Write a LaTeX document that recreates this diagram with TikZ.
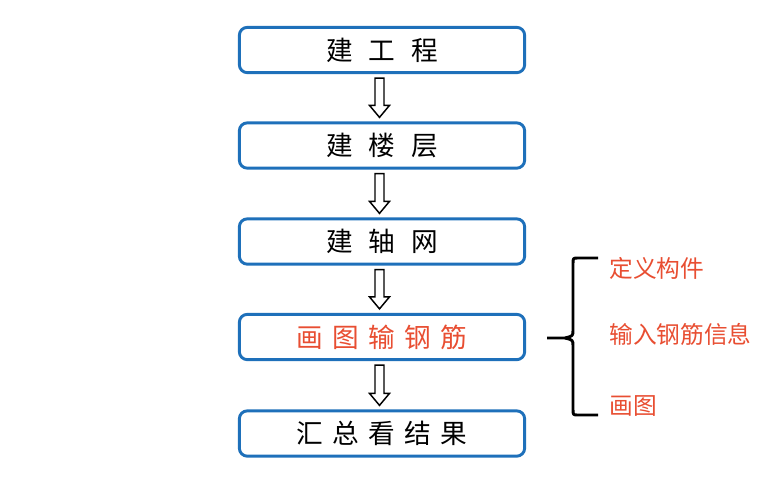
\documentclass[tikz,border=0pt]{standalone}
\usepackage{fontspec}
\newfontfamily\cjk{Noto Sans CJK SC}
\usetikzlibrary{calc}
\definecolor{boxblue}{RGB}{30,112,186}
\definecolor{notered}{RGB}{232,78,50}
\tikzstyle{stage} = [draw=boxblue, line width=2.2pt, rounded corners=6pt, minimum width=214pt, minimum height=34pt, inner sep=0pt, font=\cjk\fontsize{20}{22}\selectfont]
\tikzstyle{flow} = [line width=1.1pt, fill=white, line join=miter]
\tikzstyle{note} = [right, inner sep=0pt, text=notered, font=\cjk\fontsize{17.8}{19}\selectfont]
% hollow block arrow from one box down to the next
\newcommand{\flowarrow}[2]{\draw[flow] ($(#1.south)+(-7,4)$) -- ($(#2.north)+(-7,-16)$) -- ($(#2.north)+(-12.5,-16)$)
    -- ($(#2.north)+(-2.5,-4)$) -- ($(#2.north)+(7.5,-16)$) -- ($(#2.north)+(2,-16)$) -- ($(#1.south)+(2,4)$) -- cycle;}

\begin{document}
\begin{tikzpicture}[x=0.75pt, y=-0.75pt]
    \useasboundingbox (0,0) rectangle (757,490);
    \node (project) [stage] at (382,50) {建\hspace{12pt}工\hspace{12pt}程};
    \node (floors) [stage] at (382,145.5) {建\hspace{12pt}楼\hspace{12pt}层};
    \node (axis) [stage] at (382,241.5) {建\hspace{12pt}轴\hspace{12pt}网};
    \node (rebar) [stage, text=notered] at (382,337) {画\hspace{7pt}图\hspace{7pt}输\hspace{7pt}钢\hspace{7pt}筋};
    \node (result) [stage] at (382,433.5) {汇\hspace{7pt}总\hspace{7pt}看\hspace{7pt}结\hspace{7pt}果};
    \flowarrow{project}{floors}
    \flowarrow{floors}{axis}
    \flowarrow{axis}{rebar}
    \flowarrow{rebar}{result}
    % brace with the three steps
    \coordinate (btop) at (598,258);
    \coordinate (bbot) at (598,415);
    \coordinate (btip) at (547,338);
    \draw[line width=2.2pt, line join=round] (btop) -- (578,258) .. controls (573,258) .. (573,264) -- (573,330)
        .. controls (573,336) .. (565,338) -- (btip);
    \draw[line width=2.2pt, line join=round] (bbot) -- (578,415) .. controls (573,415) .. (573,409) -- (573,346)
        .. controls (573,340) .. (565,338);
    \node (define) [note] at (609,268) {定义构件};
    \node (input) [note] at (609,334) {输入钢筋信息};
    \node (draw) [note] at (609,406) {画图};
\end{tikzpicture}
\end{document}
